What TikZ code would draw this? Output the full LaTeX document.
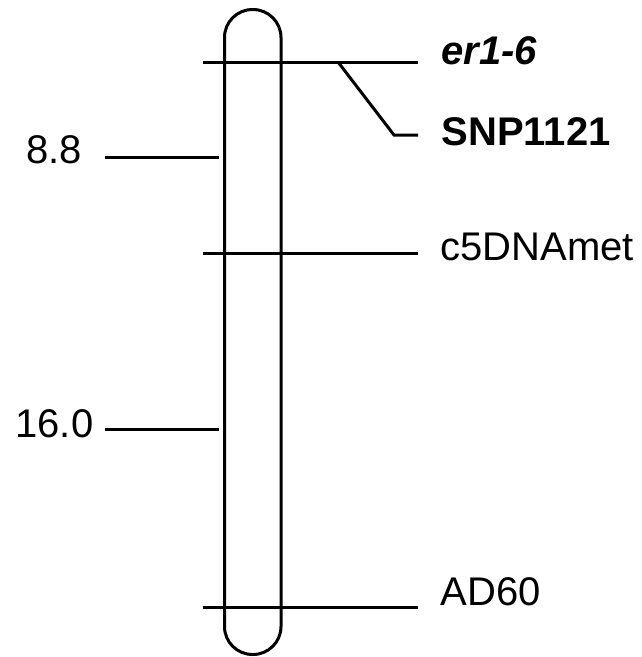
\documentclass[tikz,border=0pt]{standalone}
\usepackage{fontspec}
\setmainfont{Liberation Sans}
\begin{document}
\begin{tikzpicture}[x=1pt,y=-1pt,line width=3pt,
  lab/.style={inner sep=0pt,font=\fontsize{40}{48}\selectfont},
  marker/.style={line width=3pt}]
\useasboundingbox (0,0) rectangle (642,657);
% chromosome
\node[draw,line width=3pt,rounded corners=28pt,minimum width=56.5pt,minimum height=645pt,inner sep=0pt] (chr) at (252.75,332) {};
% marker coordinates
\coordinate (m1a) at (203,62);   \coordinate (m1b) at (418,62);
\coordinate (s1) at (338,62);    \coordinate (s2) at (394,135); \coordinate (s3) at (418,135);
\coordinate (m2a) at (203,253.5); \coordinate (m2b) at (418,253.5);
\coordinate (m3a) at (203,607);  \coordinate (m3b) at (418,607);
\coordinate (t1a) at (105,157.5); \coordinate (t1b) at (219,157.5);
\coordinate (t2a) at (105,429);   \coordinate (t2b) at (219,429);
% lines
\draw[marker] (m1a) -- (m1b);
\draw[marker] (s1) -- (s2) -- (s3);
\draw[marker] (m2a) -- (m2b);
\draw[marker] (m3a) -- (m3b);
\draw[marker] (t1a) -- (t1b);
\draw[marker] (t2a) -- (t2b);
% labels
\node[lab,anchor=base west] (er) at (440,64) {\textbf{\textit{er1-6}}};
\node[lab,anchor=base west] (snp) at (440,145) {\textbf{SNP1121}};
\node[lab,anchor=base west] (c5) at (439,260) {c5DNAmet};
\node[lab,anchor=base west] (ad) at (439,605) {AD60};
\node[lab,anchor=base west] (n88) at (25,163) {8.8};
\node[lab,anchor=base west] (n160) at (14,437.5) {16.0};
\end{tikzpicture}
\end{document}
